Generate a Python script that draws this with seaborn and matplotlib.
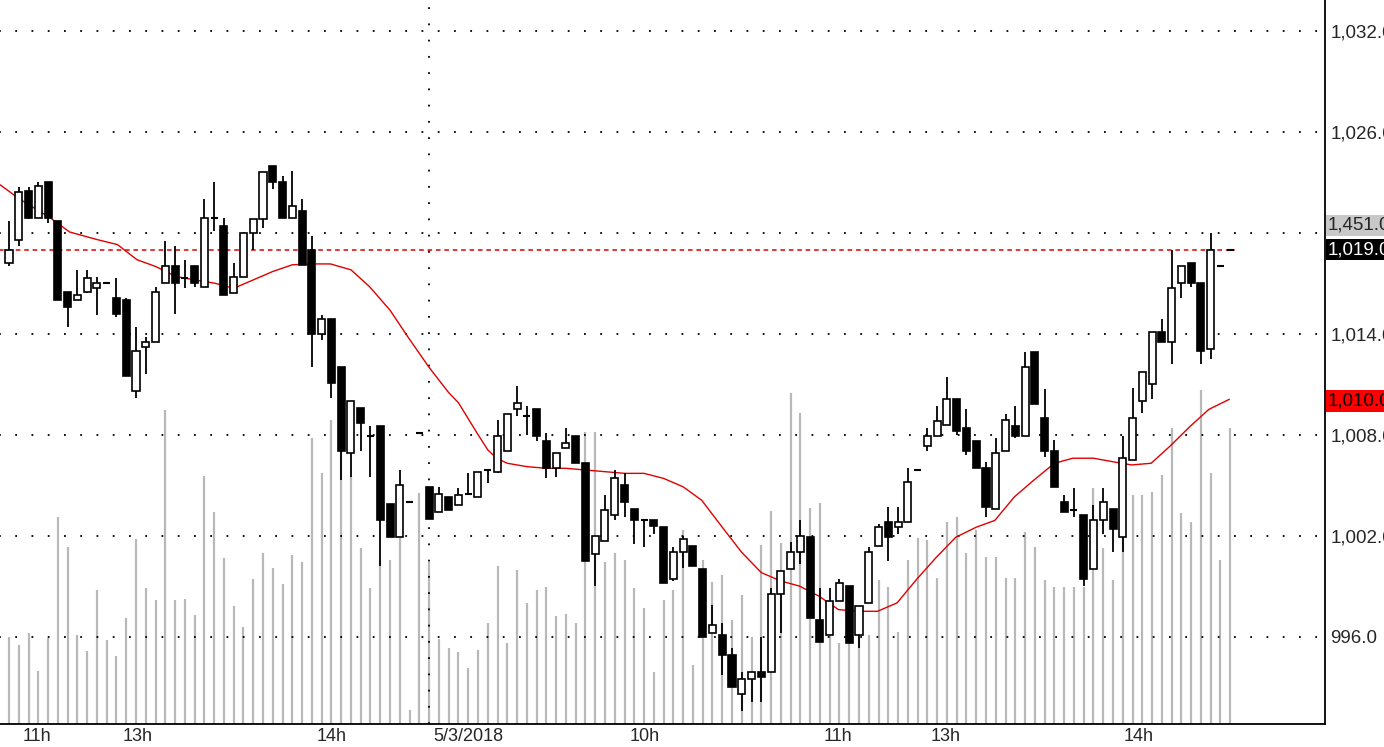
import numpy as np
import pandas as pd
import matplotlib
matplotlib.use("Agg")
import matplotlib.pyplot as plt
import seaborn as sns

sns.set_style("white")
plt.rcParams["font.family"] = ["Liberation Sans", "DejaVu Sans"]

# OHLC per bar (price units)
opens = [1018.2, 1019.6, 1022.5, 1020.9, 1023.0, 1020.7, 1016.5, 1016.0, 1016.5, 1016.7,
         1017.0, 1016.1, 1016.0, 1010.6, 1013.2, 1013.5, 1017.0, 1018.0, 1017.3, 1018.0,
         1016.8, 1020.9, 1020.4, 1016.4, 1017.4, 1020.0, 1020.8, 1024.0, 1023.0, 1020.9,
         1021.3, 1019.0, 1014.0, 1014.9, 1012.0, 1006.9, 1009.6, 1007.9, 1008.5, 1003.9,
         1001.9, 1004.0, 1008.1, 1004.9, 1003.4, 1004.3, 1003.8, 1004.4, 1004.3, 1005.9,
         1005.8, 1007.0, 1009.5, 1009.1, 1009.5, 1007.6, 1006.0, 1007.2, 1007.9, 1006.3,
         1000.9, 1001.7, 1003.2, 1005.0, 1003.6, 1002.9, 1002.9, 1002.5, 999.4, 1001.0,
         1001.4, 1000.0, 996.2, 996.1, 994.9, 992.6, 993.5, 993.9, 993.9, 998.5,
         1000.0, 1001.0, 1001.9, 997.0, 996.1, 998.1, 999.0, 996.1, 998.0, 1001.4,
         1002.8, 1002.5, 1002.8, 1005.9, 1007.3, 1007.9, 1008.6, 1010.1, 1008.4, 1007.6,
         1006.0, 1003.6, 1007.0, 1008.5, 1007.9, 1012.9, 1009.0, 1007.0, 1004.0, 1003.5,
         1003.2, 1000.0, 1002.9, 1003.6, 1001.9, 1006.5, 1010.0, 1011.0, 1014.1, 1013.5,
         1017.0, 1018.2, 1017.0, 1013.1, 1018.0, 1019.0]
highs = [1020.7, 1022.7, 1022.7, 1023.0, 1023.0, 1020.7, 1016.5, 1017.8, 1017.8, 1017.4,
         1017.0, 1017.3, 1016.1, 1014.4, 1013.8, 1016.8, 1019.5, 1019.2, 1018.4, 1018.0,
         1022.0, 1023.0, 1020.9, 1018.2, 1020.0, 1020.8, 1023.6, 1024.0, 1023.4, 1023.7,
         1022.0, 1019.8, 1015.1, 1014.9, 1012.0, 1010.0, 1009.6, 1008.5, 1008.5, 1003.9,
         1005.9, 1004.0, 1008.1, 1004.9, 1004.9, 1004.3, 1004.8, 1005.7, 1005.8, 1005.9,
         1008.9, 1009.2, 1010.9, 1009.7, 1009.5, 1008.1, 1006.9, 1008.4, 1007.9, 1006.3,
         1002.0, 1004.4, 1005.9, 1005.7, 1003.6, 1002.9, 1002.9, 1002.5, 1001.3, 1002.0,
         1001.4, 1000.0, 997.9, 996.8, 995.3, 993.9, 993.9, 996.0, 998.9, 999.9,
         1001.6, 1002.9, 1001.9, 998.9, 998.9, 999.4, 999.0, 997.8, 1001.3, 1002.7,
         1003.7, 1003.7, 1006.0, 1005.9, 1008.4, 1009.7, 1011.4, 1010.1, 1009.5, 1007.6,
         1006.4, 1007.8, 1009.2, 1009.7, 1012.9, 1012.9, 1010.7, 1007.7, 1004.4, 1004.8,
         1003.2, 1003.8, 1004.8, 1003.6, 1007.9, 1010.8, 1011.7, 1014.1, 1014.9, 1019.0,
         1018.0, 1018.2, 1017.0, 1020.0, 1018.0, 1019.0]
lows = [1018.0, 1019.2, 1020.8, 1020.9, 1020.6, 1016.0, 1014.4, 1016.0, 1016.4, 1015.1,
        1017.0, 1015.0, 1011.5, 1010.2, 1011.6, 1013.5, 1017.0, 1015.2, 1016.7, 1016.8,
        1016.8, 1020.1, 1016.3, 1016.4, 1017.4, 1019.0, 1020.3, 1022.6, 1020.9, 1020.9,
        1018.1, 1012.0, 1013.6, 1010.2, 1005.3, 1005.5, 1007.0, 1005.5, 1000.2, 1001.9,
        1001.9, 1004.0, 1008.1, 1003.0, 1003.4, 1003.5, 1003.8, 1004.4, 1004.3, 1005.1,
        1005.7, 1007.0, 1009.1, 1008.0, 1007.6, 1005.4, 1005.5, 1007.2, 1006.3, 1000.5,
        999.0, 1001.7, 1002.9, 1003.1, 1001.5, 1001.3, 1002.1, 999.2, 999.3, 1000.1,
        1000.2, 996.0, 996.2, 993.7, 993.0, 991.6, 992.1, 992.1, 993.9, 996.2,
        1000.0, 1000.3, 997.1, 995.7, 996.1, 998.1, 995.6, 995.3, 998.0, 1001.4,
        1000.5, 1002.1, 1002.8, 1005.9, 1007.0, 1007.9, 1008.6, 1008.0, 1006.8, 1006.0,
        1003.1, 1003.6, 1007.0, 1007.8, 1007.9, 1009.8, 1006.7, 1004.9, 1003.4, 1003.1,
        999.0, 1000.0, 1002.1, 1001.0, 1001.0, 1006.5, 1009.3, 1010.1, 1013.5, 1012.2,
        1016.1, 1016.8, 1012.2, 1012.5, 1018.0, 1019.0]
closes = [1019.0, 1022.4, 1020.9, 1022.8, 1020.9, 1016.0, 1015.6, 1016.3, 1017.3, 1017.0,
          1017.0, 1015.2, 1011.5, 1013.0, 1013.5, 1016.5, 1018.0, 1017.0, 1017.3, 1017.0,
          1020.9, 1020.9, 1016.3, 1017.4, 1020.0, 1020.8, 1023.6, 1023.0, 1020.9, 1021.6,
          1018.1, 1014.0, 1014.9, 1011.1, 1007.0, 1010.0, 1008.7, 1007.9, 1002.9, 1001.9,
          1005.0, 1004.0, 1008.1, 1003.0, 1004.5, 1003.5, 1004.4, 1004.5, 1005.8, 1005.9,
          1007.9, 1009.2, 1009.9, 1009.1, 1007.9, 1006.0, 1006.9, 1007.5, 1006.3, 1000.5,
          1002.0, 1003.5, 1005.4, 1004.0, 1002.9, 1002.9, 1002.6, 999.2, 1001.0, 1001.8,
          1000.2, 996.0, 996.7, 994.9, 993.0, 993.5, 993.9, 993.6, 998.5, 999.9,
          1001.0, 1002.0, 997.1, 995.7, 998.1, 999.2, 995.6, 997.8, 1001.0, 1002.5,
          1001.9, 1002.8, 1005.2, 1005.9, 1007.9, 1008.8, 1010.1, 1008.2, 1007.0, 1006.0,
          1003.7, 1006.9, 1008.9, 1007.9, 1012.0, 1009.8, 1007.0, 1004.9, 1003.4, 1003.5,
          999.4, 1002.9, 1004.0, 1002.4, 1006.6, 1009.0, 1011.7, 1014.1, 1013.5, 1016.7,
          1018.0, 1017.0, 1013.0, 1019.0, 1018.0, 1019.0]
volume = [87, 79, 91, 53, 86, 207, 177, 89, 73, 134, 84, 68, 106, 185, 136, 124, 314, 124, 125, 109,
          248, 212, 166, 118, 97, 145, 171, 156, 140, 169, 162, 286, 251, 304, 274, 248, 176, 136, 164, 164,
          186, 14, 231, 162, 85, 76, 72, 56, 74, 101, 158, 81, 154, 121, 134, 137, 108, 110, 101, 292,
          292, 162, 171, 164, 136, 116, 52, 124, 134, 194, 59, 164, 142, 149, 104, 129, 87, 179, 213, 181,
          331, 311, 216, 221, 124, 81, 116, 106, 89, 144, 137, 92, 164, 186, 184, 146, 202, 207, 171, 194,
          167, 167, 146, 146, 192, 177, 144, 137, 137, 137, 137, 236, 176, 144, 186, 229, 229, 232, 249, 296,
          211, 202, 334, 251, 164, 296]

# moving average (red line), read at bar positions
ma_idx = [-0.9, 1.1, 4.2, 6.2, 9.0, 11.1, 13.1, 15.0, 17.1, 19.0, 21.1, 23.0, 25.0, 27.0, 29.0,
          31.0, 32.9, 35.0, 36.9, 39.0, 40.9, 43.0, 45.0, 46.0, 47.9, 49.0, 49.9, 51.0, 53.0, 55.0,
          57.0, 59.0, 61.0, 63.0, 65.0, 67.0, 69.0, 70.9, 73.0, 75.0, 77.0, 79.0, 80.9, 82.9, 84.9,
          86.9, 88.9, 90.9, 92.9, 94.9, 96.9, 99.0, 100.9, 102.9, 104.9, 107.0, 108.9, 111.0, 112.9,
          114.9, 116.9, 118.8, 120.9, 122.8, 124.9]
ma_val = [1022.85, 1022.0, 1020.9, 1020.05, 1019.6, 1019.3, 1018.4, 1018.0, 1017.4, 1017.2, 1017.0,
          1016.7, 1017.2, 1017.7, 1018.1, 1018.15, 1018.15, 1017.8, 1016.8, 1015.4, 1013.75, 1012.0,
          1010.5, 1009.9, 1008.1, 1007.1, 1006.6, 1006.3, 1006.1, 1006.0, 1006.0, 1005.9, 1005.8,
          1005.7, 1005.7, 1005.4, 1004.9, 1004.1, 1002.5, 1001.0, 999.8, 999.3, 999.0, 998.4, 997.6,
          997.5, 997.5, 998.0, 999.4, 1000.7, 1001.9, 1002.5, 1002.9, 1004.3, 1005.3, 1006.3, 1006.6,
          1006.6, 1006.4, 1006.2, 1006.3, 1007.3, 1008.5, 1009.5, 1010.1]

price_ticks = [996, 1002, 1008, 1014, 1020, 1026, 1032]
price_labels = ["996.0", "1,002.0", "1,008.0", "1,014.0", "", "1,026.0", "1,032.0"]
time_ticks = [0.92, 11.16, 31.1, 43.0, 63.05, 83.0, 93.9, 113.7]
time_labels = ["11h", "13h", "14h", "5/3/2018", "10h", "11h", "13h", "14h"]
last_price = 1019.0
ma_last = 1010.0

df = pd.DataFrame({"open": opens, "high": highs, "low": lows, "close": closes, "volume": volume})
df["i"] = np.arange(len(df))

fig = plt.figure(figsize=(13.84, 7.47), dpi=100)
ax = fig.add_axes([0, 0.0308, 0.9574, 0.9692])
axv = ax.twinx()
ax.set_zorder(axv.get_zorder() + 1)
ax.patch.set_visible(False)

# volume bars
axv.vlines(df["i"], 0, df["volume"], color="#b8b8b8", lw=1.6)
axv.set_ylim(0, 724)
axv.set_yticks([])
for s in axv.spines.values():
    s.set_visible(False)

# grid
ax.hlines(price_ticks, -1, 134.7, colors="black", linestyles=(0, (1, 8)), lw=1.3, zorder=0)
ax.axvline(43.0, color="black", ls=(0, (1, 8)), lw=1.3, zorder=0)

# dashed last-price line
ax.hlines(last_price, -1, 125.5, colors="#e00000", linestyles=(0, (3, 2.5)), lw=1.1, zorder=1)

# MA line
sns.lineplot(x=ma_idx, y=ma_val, ax=ax, color="#e00000", lw=1.0, zorder=2)

# candles
w = 0.72
for r in df.itertuples():
    ax.vlines(r.i, r.low, r.high, color="black", lw=1.3, zorder=3)
    lo, hi = min(r.open, r.close), max(r.open, r.close)
    if hi - lo < 0.15:
        ax.hlines((lo + hi) / 2, r.i - w / 2, r.i + w / 2, color="black", lw=1.5, zorder=4)
    else:
        fc = "white" if r.close > r.open else "black"
        ax.bar(r.i, hi - lo, bottom=lo, width=w, color=fc, edgecolor="black", lw=1.2, zorder=4)

ax.set_xlim(-0.92, 134.7)
ax.set_ylim(990.8, 1033.84)

for sp in ["top", "left"]:
    ax.spines[sp].set_visible(False)
ax.spines["right"].set_color("black")
ax.spines["bottom"].set_color("black")
ax.spines["right"].set_linewidth(1.3)
ax.spines["bottom"].set_linewidth(1.3)

ax.yaxis.tick_right()
ax.set_yticks(price_ticks)
ax.set_yticklabels(price_labels, fontsize=13.5)
ax.tick_params(axis="y", length=0, pad=4)

ax.set_xticks(time_ticks)
ax.set_xticklabels([])
ax.tick_params(axis="x", length=14, width=1, direction="out", color="black")
for t, lab in zip(time_ticks, time_labels):
    ax.annotate(lab, xy=(t, 0), xycoords=("data", "axes fraction"), xytext=(3, -3),
                textcoords="offset points", ha="left", va="top", fontsize=13)

# right-side value boxes
box_x = 1.002
ax.text(box_x, 1020.45, "1,451.0", transform=ax.get_yaxis_transform(), fontsize=13.5,
        va="center", ha="left", bbox=dict(fc="#c8c8c8", ec="none", pad=1.5))
ax.text(box_x, last_price, "1,019.0", transform=ax.get_yaxis_transform(), fontsize=13.5,
        color="white", va="center", ha="left", bbox=dict(fc="black", ec="none", pad=1.5))
ax.text(box_x, ma_last, "1,010.0", transform=ax.get_yaxis_transform(), fontsize=13.5,
        color="black", va="center", ha="left", bbox=dict(fc="#ff0000", ec="none", pad=1.5))

fig.savefig("out.png", dpi=100)
